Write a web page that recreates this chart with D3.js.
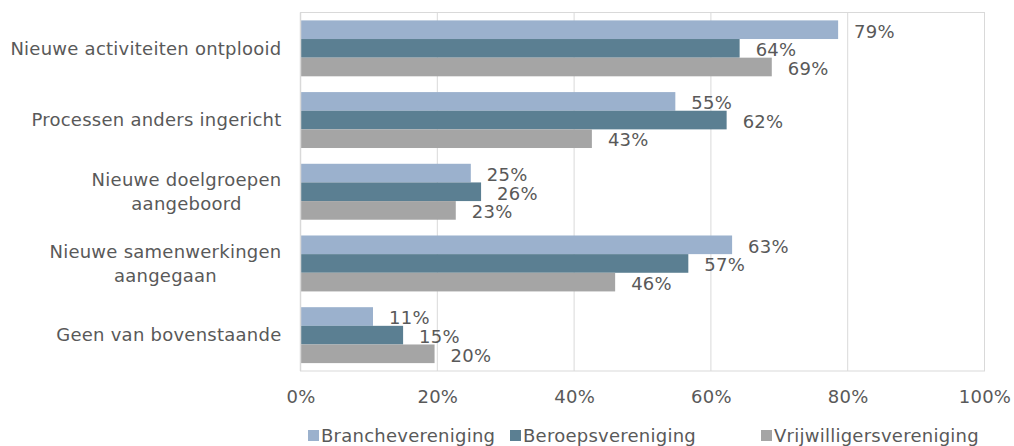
<!DOCTYPE html>
<html>
<head>
<meta charset="utf-8">
<script src="https://cdn.jsdelivr.net/npm/d3@7"></script>
<style>
  body { margin: 0; background: #fff; }
  text { font-family: Verdana, "DejaVu Sans", sans-serif; fill: #595959; letter-spacing: 0.25px; }
</style>
</head>
<body>
<div id="chart"></div>
<script>
// categories, top to bottom (label lines)
const categories = [
    ["Nieuwe activiteiten ontplooid"],
    ["Processen anders ingericht"],
    ["Nieuwe doelgroepen", "aangeboord"],
    ["Nieuwe samenwerkingen", "aangegaan"],
    ["Geen van bovenstaande"]
];
const seriesNames = ["Branchevereniging", "Beroepsvereniging", "Vrijwilligersvereniging"];
const branche = [0.786, 0.548, 0.249, 0.631, 0.106];
const beroeps = [0.642, 0.623, 0.264, 0.567, 0.150];
const vrijwilligers = [0.689, 0.426, 0.227, 0.460, 0.196];
const xTicks = [0, 0.2, 0.4, 0.6, 0.8, 1.0];
const colors = ["#9bb1cd", "#5b7f92", "#a5a5a5"];

const W = 1014, H = 446;
const fontSize = "18px";
const margin = {top: 12.5, left: 300.5};
const width = 984.5 - margin.left;
const height = 371 - margin.top;

const svg = d3.select("#chart").append("svg")
    .attr("width", W)
    .attr("height", H);

const g = svg.append("g")
    .attr("transform", `translate(${margin.left},${margin.top})`);

const x = d3.scaleLinear().domain([0, 1]).range([0, width]);
const y = d3.scaleBand().domain(d3.range(categories.length)).range([0, height]).paddingInner(0.22).paddingOuter(0.11);
const ySub = d3.scaleBand().domain(d3.range(3)).range([0, y.bandwidth()]);

// plot border + gridlines
g.append("rect")
    .attr("width", width)
    .attr("height", height)
    .attr("fill", "none")
    .attr("stroke", "#d9d9d9");

g.selectAll("line.grid")
    .data(xTicks.slice(1, -1))
    .enter().append("line")
    .attr("class", "grid")
    .attr("x1", d => x(d)).attr("x2", d => x(d))
    .attr("y1", 0).attr("y2", height)
    .attr("stroke", "#d9d9d9");

// x axis labels
const xAxis = d3.axisBottom(x).tickValues(xTicks).tickFormat(d3.format(".0%")).tickSize(0).tickPadding(19);
const xg = g.append("g").attr("transform", `translate(0,${height})`).call(xAxis);
xg.select(".domain").remove();
xg.selectAll("text")
    .style("font-size", fontSize)
    .style("font-family", 'Verdana, "DejaVu Sans", sans-serif')
    .attr("fill", "#595959");

// bars
const seriesData = [branche, beroeps, vrijwilligers];
const fmt = d3.format(".0%");

seriesData.forEach(function(vals, s) {
    const sg = g.append("g");
    sg.selectAll("rect")
        .data(vals)
        .enter().append("rect")
        .attr("x", 0)
        .attr("y", (d, i) => y(i) + ySub(s))
        .attr("width", d => x(d))
        .attr("height", ySub.bandwidth())
        .attr("fill", colors[s]);

    sg.selectAll("text")
        .data(vals)
        .enter().append("text")
        .attr("x", d => x(d) + 16)
        .attr("y", (d, i) => y(i) + ySub(s) + ySub.bandwidth() / 2 + 1.5)
        .attr("dy", "0.35em")
        .style("font-size", fontSize)
        .text(d => fmt(d));
});

// left axis line
g.append("line")
    .attr("x1", 0).attr("x2", 0)
    .attr("y1", 0).attr("y2", height)
    .attr("stroke", "#d9d9d9")
    .attr("stroke-width", 1.5);

// category labels
const lineH = 24;
categories.forEach(function(lines, i) {
    const cy = y(i) + y.bandwidth() / 2;
    const t = g.append("text")
        .attr("text-anchor", "end")
        .style("font-size", fontSize);
    lines.forEach(function(l, k) {
        t.append("tspan")
            .attr("x", -19)
            .attr("y", cy + (k - (lines.length - 1) / 2) * lineH)
            .attr("dy", "0.35em")
            .text(l);
    });
    // centre multi-line labels on their widest line
    if (lines.length > 1) {
        const tsp = t.selectAll("tspan").nodes();
        const widths = tsp.map(n => n.getComputedTextLength());
        const maxW = d3.max(widths);
        tsp.forEach(function(n, k) {
            d3.select(n).attr("x", -19 - (maxW - widths[k]) / 2);
        });
    }
});

// legend
const legend = svg.append("g").attr("transform", "translate(0,436)");
const legendX = [308, 510, 761];
seriesNames.forEach(function(name, s) {
    legend.append("rect")
        .attr("x", legendX[s])
        .attr("y", -6)
        .attr("width", 11)
        .attr("height", 11)
        .attr("fill", colors[s]);
    legend.append("text")
        .attr("x", legendX[s] + 13)
        .attr("y", 0)
        .attr("dy", "0.35em")
        .style("font-size", fontSize)
        .text(name);
});
</script>
</body>
</html>
